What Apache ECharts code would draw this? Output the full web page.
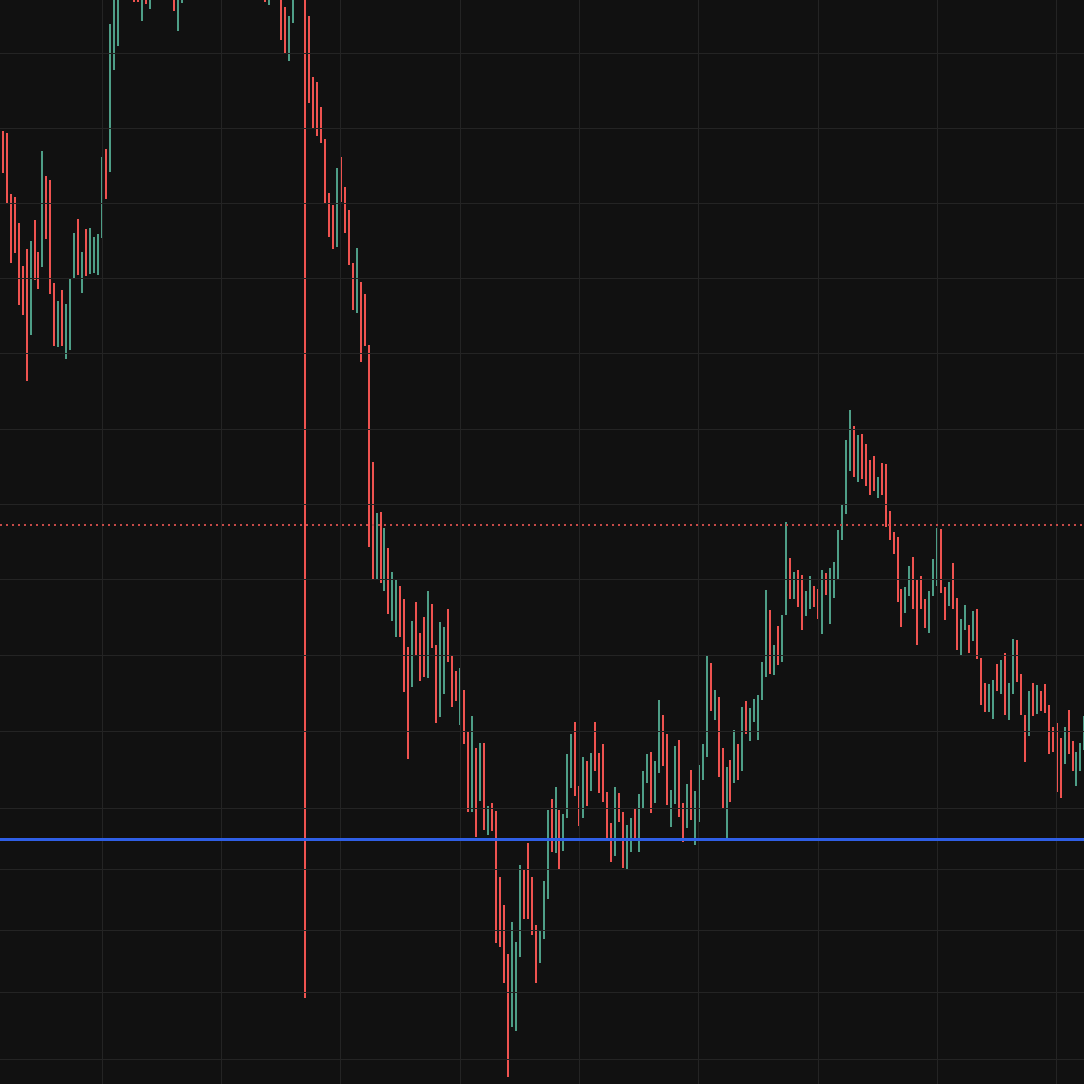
<!DOCTYPE html>
<html>
<head>
<meta charset="utf-8">
<script src="https://cdn.jsdelivr.net/npm/echarts@6/dist/echarts.min.js"></script>
<style>
html,body{margin:0;padding:0;background:#111111;}
#chart{width:1084px;height:1084px;}
</style>
</head>
<body>
<div id="chart"></div>
<script>
// Bar highs / lows (price units) and direction (1 = up/green, 0 = down/red)
const highs = [
953,951,890,887,861,818,835,843,864,832,
933,908,904,801,783,794,780,805,851,865,
832,855,856,847,850,927,935,1060,1110,1130,
1160,1175,1170,1140,1135,1130,1125,1130,1160,1170,
1165,1150,1140,1130,1120,1140,1150,1165,1180,1175,
1190,1200,1185,1170,1195,1210,1200,1185,1175,1190,
1180,1165,1170,1160,1150,1145,1135,1140,1150,1145,
1120,1077,1068,1110,1140,1135,1130,1068,1007,1002,
977,945,891,879,916,927,897,874,821,836,
802,790,739,622,571,572,556,536,512,504,
498,485,437,463,482,451,467,493,480,439,
462,457,475,428,413,416,394,352,368,336,
341,341,278,281,273,207,179,130,162,142,
219,214,241,207,159,154,203,274,285,297,
274,270,330,350,362,298,327,323,331,362,
331,340,292,261,297,291,272,259,266,275,
290,313,330,332,323,384,369,350,294,338,
344,281,300,314,293,319,340,428,421,394,
387,336,317,324,354,340,377,383,376,385,
389,422,494,474,439,458,469,562,526,512,
514,509,493,508,498,495,514,511,516,522,
554,579,644,674,658,649,650,640,624,628,
607,621,620,573,552,547,495,497,518,527,
504,508,485,493,525,556,555,497,502,521,
486,465,479,459,473,475,426,401,400,404,
420,424,431,401,445,444,410,369,393,401,
399,393,400,379,357,361,346,357,374,343,
332,341,368
];
const lows = [
911,881,821,831,779,769,703,749,804,795,
817,845,790,738,737,738,725,734,805,809,
791,808,810,811,809,846,885,912,1014,1038,
1100,1115,1110,1082,1082,1063,1080,1075,1100,1110,
1105,1095,1090,1073,1053,1081,1095,1110,1120,1115,
1130,1140,1125,1115,1135,1150,1140,1125,1110,1130,
1120,1105,1110,1100,1095,1090,1082,1079,1095,1090,
1044,1030,1023,1061,1095,1090,86,981,956,948,
941,880,847,835,837,882,851,819,774,771,
722,738,537,504,504,501,493,470,463,447,
447,392,325,397,429,403,407,406,436,361,
367,390,422,377,383,359,340,272,272,247,
283,254,249,253,141,137,101,7,57,53,
127,165,165,149,101,121,145,185,232,231,
215,233,266,296,288,258,266,278,293,313,
291,282,246,222,228,262,216,214,232,243,
232,276,301,271,281,311,318,279,257,280,
267,242,256,264,239,262,304,327,373,364,
307,276,243,282,301,304,313,350,343,362,
344,384,407,410,409,419,422,469,485,485,
477,454,468,475,477,465,450,489,460,486,
504,544,570,613,607,602,605,598,589,593,
586,589,557,544,530,482,457,471,488,475,
439,475,456,451,488,498,491,464,478,475,
434,428,454,431,443,425,379,372,372,365,
393,390,369,364,390,402,369,322,348,368,
370,373,371,330,332,292,286,320,330,313,
298,313,334
];
const dirs = [
0,0,0,0,0,0,0,1,0,0,
1,0,0,0,1,0,1,1,1,0,
1,0,1,1,1,1,0,1,1,1,
1,1,0,0,0,1,0,1,1,0,
1,0,0,0,1,1,1,1,0,1,
1,0,0,1,1,0,0,0,1,1,
0,0,1,0,0,1,0,1,0,1,
0,0,1,1,0,1,0,0,0,0,
0,0,0,0,1,0,0,0,0,1,
0,0,0,0,1,0,1,0,1,1,
0,0,0,1,0,0,0,1,0,0,
1,1,0,0,0,1,0,0,1,0,
1,0,1,0,0,0,0,0,1,1,
1,0,0,0,0,1,1,1,0,1,
0,1,1,1,0,0,1,0,1,0,
0,0,0,0,1,0,0,1,1,0,
1,1,1,0,1,1,0,0,1,1,
0,0,1,0,1,1,1,1,0,1,
0,0,1,0,1,0,1,0,1,1,
1,1,1,0,1,0,1,1,0,1,
0,0,1,1,0,0,1,0,1,1,
1,1,1,1,0,1,0,0,0,0,
1,0,0,0,0,0,0,1,1,0,
0,0,0,1,1,1,0,0,1,0,
0,1,1,0,1,0,0,0,1,1,
0,1,0,1,1,0,0,0,1,0,
1,0,0,0,0,0,0,1,0,0,
1,1,1
];
const categories = highs.map((_, i) => i);
const priceGridLevels = [1031,956,881,806,731,655,580,505,429,353,276,215,154,92,25];
const timeGridBars = [25,55,85,115,145,175,205,235,265];
const supportLevel = 245;
const lastPriceLevel = 559;

const UP = '#4e9e87', DOWN = '#ef5350';
const barData = categories.map(i => [i, highs[i], lows[i], dirs[i]]);

const chart = echarts.init(document.getElementById('chart'), null, {renderer: 'canvas'});
chart.setOption({
  backgroundColor: '#111111',
  animation: false,
  grid: {left: 0, right: 0, top: 0, bottom: 0},
  xAxis: {type: 'value', min: -0.68, max: 271.89, show: false, splitLine: {show: false}},
  yAxis: {type: 'value', min: 0, max: 1084, show: false, splitLine: {show: false}},
  series: [
    {
      type: 'line', data: [], z: 1, silent: true,
      markLine: {
        silent: true, symbol: 'none', label: {show: false},
        lineStyle: {color: '#242424', width: 1, type: 'solid'},
        data: timeGridBars.map(v => ({xAxis: v})).concat(priceGridLevels.map(v => ({yAxis: v})))
      }
    },
    {
      type: 'line', data: [], z: 2, silent: true,
      markLine: {
        silent: true, symbol: 'none', label: {show: false},
        data: [
          {yAxis: supportLevel, lineStyle: {color: '#2f5fe6', width: 3, type: 'solid'}},
          {yAxis: lastPriceLevel, lineStyle: {color: '#c64a48', width: 2, type: [2, 4]}}
        ]
      }
    },
    {
      type: 'custom', z: 3, clip: true,
      data: barData,
      renderItem: function (params, api) {
        const top = api.coord([api.value(0), api.value(1)]);
        const bot = api.coord([api.value(0), api.value(2)]);
        return {
          type: 'rect',
          shape: {x: Math.round(top[0]) - 1, y: top[1], width: 2, height: bot[1] - top[1]},
          style: {fill: api.value(3) ? UP : DOWN}
        };
      }
    }
  ]
});
</script>
</body>
</html>
